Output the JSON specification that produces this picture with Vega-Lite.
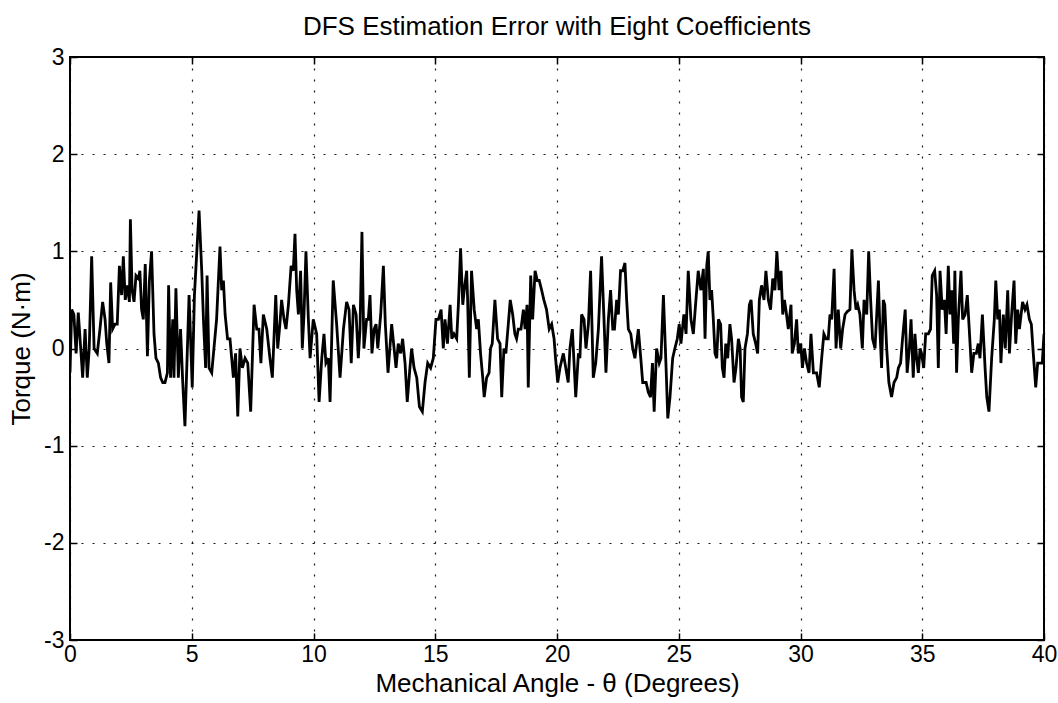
{
  "$schema": "https://vega.github.io/schema/vega-lite/v6.json",
  "autosize": {"type": "none"},
  "padding": {"left": 70, "top": 57, "right": 14, "bottom": 63},
  "width": 974,
  "height": 583,
  "background": "white",
  "title": {"text": "DFS Estimation Error with Eight Coefficients", "fontSize": 26, "font": "Liberation Sans", "fontWeight": "normal", "color": "black", "offset": 6},
  "config": {
    "view": {"stroke": "black", "strokeWidth": 2},
    "axis": {"labelFont": "Liberation Sans", "titleFont": "Liberation Sans", "labelFontSize": 23, "titleFontSize": 26, "titleFontWeight": "normal", "labelColor": "black", "titleColor": "black", "domain": false, "tickColor": "black", "tickSize": -7, "tickWidth": 1.5, "gridColor": "black", "gridDash": [2, 9], "gridWidth": 1.2, "gridOpacity": 0.9}
  },
  "data": {"values": [
    {"a":0,"t":-0.25},{"a":0.07,"t":0.4},{"a":0.16,"t":0.35},{"a":0.25,"t":-0.05},{"a":0.34,"t":0.37},{"a":0.44,"t":0.0},{"a":0.52,"t":-0.3},{"a":0.62,"t":0.2},{"a":0.71,"t":-0.3},{"a":0.79,"t":0.0},{"a":0.89,"t":0.95},{"a":0.99,"t":0.0},{"a":1.12,"t":-0.05},{"a":1.23,"t":0.2},{"a":1.34,"t":0.48},{"a":1.44,"t":0.3},{"a":1.51,"t":0.05},{"a":1.6,"t":-0.15},{"a":1.67,"t":0.68},{"a":1.75,"t":0.2},{"a":1.85,"t":0.25},{"a":1.94,"t":0.25},{"a":2.03,"t":0.85},{"a":2.12,"t":0.55},{"a":2.19,"t":0.95},{"a":2.27,"t":0.5},{"a":2.35,"t":0.65},{"a":2.44,"t":0.48},{"a":2.48,"t":1.33},{"a":2.55,"t":0.6},{"a":2.63,"t":0.48},{"a":2.71,"t":0.75},{"a":2.81,"t":0.72},{"a":2.87,"t":0.8},{"a":2.94,"t":0.4},{"a":3.01,"t":0.3},{"a":3.09,"t":0.87},{"a":3.18,"t":-0.08},{"a":3.26,"t":0.7},{"a":3.35,"t":1.0},{"a":3.45,"t":0.15},{"a":3.53,"t":-0.1},{"a":3.63,"t":-0.15},{"a":3.72,"t":-0.3},{"a":3.81,"t":-0.35},{"a":3.9,"t":-0.35},{"a":4.0,"t":-0.25},{"a":4.05,"t":0.65},{"a":4.13,"t":-0.3},{"a":4.22,"t":0.3},{"a":4.27,"t":-0.3},{"a":4.35,"t":0.62},{"a":4.45,"t":-0.3},{"a":4.54,"t":0.2},{"a":4.63,"t":-0.35},{"a":4.72,"t":-0.8},
    {"a":4.89,"t":0.55},{"a":5.02,"t":-0.4},{"a":5.11,"t":0.55},{"a":5.3,"t":1.42},{"a":5.41,"t":0.8},{"a":5.48,"t":0.3},{"a":5.57,"t":-0.2},{"a":5.63,"t":0.75},{"a":5.71,"t":-0.2},{"a":5.82,"t":-0.25},{"a":6.02,"t":0.3},{"a":6.16,"t":1.05},{"a":6.23,"t":0.6},{"a":6.3,"t":0.7},{"a":6.37,"t":0.35},{"a":6.47,"t":0.1},{"a":6.57,"t":0.1},{"a":6.71,"t":-0.3},{"a":6.8,"t":-0.05},{"a":6.89,"t":-0.7},{"a":6.98,"t":0.0},{"a":7.08,"t":-0.2},{"a":7.19,"t":-0.1},{"a":7.3,"t":-0.15},{"a":7.42,"t":-0.65},{"a":7.56,"t":0.45},{"a":7.67,"t":0.2},{"a":7.76,"t":0.2},{"a":7.84,"t":-0.15},{"a":7.94,"t":0.35},{"a":8.08,"t":0.2},{"a":8.21,"t":-0.1},{"a":8.31,"t":-0.3},{"a":8.45,"t":0.55},{"a":8.53,"t":0.0},{"a":8.62,"t":0.25},{"a":8.69,"t":0.5},{"a":8.79,"t":0.3},{"a":8.87,"t":0.2},{"a":8.97,"t":0.45},{"a":9.08,"t":0.85},{"a":9.17,"t":0.8},{"a":9.24,"t":1.18},{"a":9.31,"t":0.6},{"a":9.38,"t":0.35},{"a":9.47,"t":0.8},{"a":9.54,"t":0.0},{"a":9.61,"t":0.35},{"a":9.69,"t":1.0},{"a":9.79,"t":0.3},{"a":9.86,"t":-0.1},{"a":9.99,"t":0.3},
    {"a":10.13,"t":0.15},{"a":10.23,"t":-0.55},{"a":10.34,"t":-0.1},{"a":10.43,"t":0.15},{"a":10.51,"t":-0.15},{"a":10.61,"t":-0.1},{"a":10.68,"t":-0.55},{"a":10.81,"t":0.7},{"a":10.95,"t":0.25},{"a":11.09,"t":-0.3},{"a":11.23,"t":0.2},{"a":11.36,"t":0.48},{"a":11.46,"t":0.4},{"a":11.55,"t":-0.15},{"a":11.64,"t":0.45},{"a":11.75,"t":0.35},{"a":11.84,"t":-0.1},{"a":11.91,"t":0.2},{"a":11.99,"t":1.2},{"a":12.07,"t":0.0},{"a":12.18,"t":0.3},{"a":12.25,"t":0.3},{"a":12.32,"t":0.55},{"a":12.4,"t":-0.05},{"a":12.49,"t":0.2},{"a":12.57,"t":0.25},{"a":12.64,"t":0.0},{"a":12.76,"t":0.35},{"a":12.87,"t":0.85},{"a":12.95,"t":0.25},{"a":13.06,"t":-0.25},{"a":13.21,"t":0.25},{"a":13.31,"t":0.0},{"a":13.39,"t":-0.2},{"a":13.48,"t":0.05},{"a":13.58,"t":-0.05},{"a":13.66,"t":0.1},{"a":13.76,"t":-0.15},{"a":13.85,"t":-0.55},{"a":13.96,"t":-0.2},{"a":14.03,"t":0.0},{"a":14.13,"t":-0.2},{"a":14.24,"t":-0.3},{"a":14.35,"t":-0.6},{"a":14.47,"t":-0.65},{"a":14.58,"t":-0.35},{"a":14.69,"t":-0.15},{"a":14.81,"t":-0.2},{"a":14.92,"t":-0.1},{"a":15.03,"t":0.3},{"a":15.13,"t":0.3},
    {"a":15.24,"t":0.4},{"a":15.33,"t":0.0},{"a":15.4,"t":0.3},{"a":15.5,"t":0.05},{"a":15.61,"t":0.45},{"a":15.68,"t":0.1},{"a":15.77,"t":0.15},{"a":15.88,"t":0.1},{"a":15.95,"t":0.45},{"a":16.04,"t":1.03},{"a":16.13,"t":0.45},{"a":16.19,"t":0.6},{"a":16.29,"t":0.8},{"a":16.33,"t":0.5},{"a":16.4,"t":-0.3},{"a":16.49,"t":0.8},{"a":16.6,"t":0.4},{"a":16.7,"t":0.2},{"a":16.77,"t":0.3},{"a":16.86,"t":-0.05},{"a":16.95,"t":-0.3},{"a":17.01,"t":-0.5},{"a":17.11,"t":-0.3},{"a":17.21,"t":-0.25},{"a":17.27,"t":0.0},{"a":17.34,"t":0.05},{"a":17.45,"t":0.5},{"a":17.56,"t":0.1},{"a":17.66,"t":0.05},{"a":17.73,"t":-0.5},{"a":17.82,"t":0.0},{"a":17.9,"t":-0.05},{"a":18.0,"t":0.25},{"a":18.08,"t":0.5},{"a":18.18,"t":0.35},{"a":18.27,"t":0.15},{"a":18.34,"t":0.1},{"a":18.41,"t":0.2},{"a":18.52,"t":0.2},{"a":18.62,"t":0.4},{"a":18.69,"t":0.2},{"a":18.77,"t":0.45},{"a":18.82,"t":-0.4},{"a":18.92,"t":0.75},{"a":19.0,"t":0.3},{"a":19.1,"t":0.8},{"a":19.19,"t":0.7},{"a":19.27,"t":0.7},{"a":19.37,"t":0.6},{"a":19.46,"t":0.5},{"a":19.57,"t":0.4},{"a":19.68,"t":0.2},{"a":19.78,"t":0.25},{"a":19.88,"t":0.1},{"a":19.94,"t":-0.1},{"a":20.03,"t":-0.35},{"a":20.12,"t":-0.2},{"a":20.26,"t":-0.05},
    {"a":20.46,"t":-0.35},{"a":20.53,"t":0.0},{"a":20.63,"t":0.2},{"a":20.7,"t":-0.15},{"a":20.77,"t":-0.5},{"a":20.88,"t":-0.05},{"a":20.94,"t":-0.1},{"a":21.01,"t":0.35},{"a":21.11,"t":0.3},{"a":21.19,"t":0.0},{"a":21.29,"t":0.25},{"a":21.38,"t":0.8},{"a":21.49,"t":-0.3},{"a":21.59,"t":-0.15},{"a":21.7,"t":0.2},{"a":21.83,"t":0.95},{"a":21.93,"t":0.3},{"a":22.01,"t":-0.25},{"a":22.11,"t":0.3},{"a":22.2,"t":0.6},{"a":22.29,"t":0.2},{"a":22.36,"t":0.2},{"a":22.45,"t":0.5},{"a":22.52,"t":0.35},{"a":22.61,"t":0.8},{"a":22.7,"t":0.8},{"a":22.79,"t":0.88},{"a":22.86,"t":0.5},{"a":22.93,"t":0.2},{"a":23.03,"t":0.15},{"a":23.11,"t":0.0},{"a":23.2,"t":-0.1},{"a":23.34,"t":0.2},{"a":23.44,"t":-0.1},{"a":23.52,"t":-0.35},{"a":23.66,"t":-0.35},{"a":23.75,"t":-0.45},{"a":23.84,"t":-0.5},{"a":23.92,"t":-0.15},{"a":23.99,"t":-0.65},{"a":24.09,"t":0.0},{"a":24.2,"t":-0.15},{"a":24.27,"t":-0.1},{"a":24.37,"t":0.55},{"a":24.48,"t":-0.2},{"a":24.55,"t":-0.72},{"a":24.64,"t":-0.5},{"a":24.75,"t":-0.1},{"a":24.84,"t":0.0},{"a":24.94,"t":0.1},{"a":25.02,"t":0.25},{"a":25.09,"t":0.05},{"a":25.21,"t":0.35},{"a":25.3,"t":0.15},{"a":25.39,"t":0.8},
    {"a":25.5,"t":0.3},{"a":25.6,"t":0.15},{"a":25.69,"t":0.45},{"a":25.8,"t":0.8},{"a":25.91,"t":0.6},{"a":26.01,"t":0.82},{"a":26.08,"t":0.1},{"a":26.15,"t":0.85},{"a":26.21,"t":1.0},{"a":26.28,"t":0.5},{"a":26.35,"t":0.6},{"a":26.42,"t":0.3},{"a":26.49,"t":-0.05},{"a":26.56,"t":-0.1},{"a":26.63,"t":0.3},{"a":26.72,"t":0.25},{"a":26.79,"t":-0.2},{"a":26.86,"t":-0.3},{"a":26.93,"t":0.05},{"a":27.01,"t":-0.1},{"a":27.1,"t":0.25},{"a":27.17,"t":0.1},{"a":27.27,"t":-0.35},{"a":27.35,"t":-0.2},{"a":27.45,"t":0.1},{"a":27.52,"t":0.0},{"a":27.58,"t":-0.5},{"a":27.65,"t":-0.55},{"a":27.72,"t":0.0},{"a":27.82,"t":0.15},{"a":27.9,"t":0.45},{"a":27.97,"t":0.5},{"a":28.06,"t":0.15},{"a":28.16,"t":0.05},{"a":28.24,"t":-0.05},{"a":28.31,"t":0.5},{"a":28.4,"t":0.65},{"a":28.5,"t":0.5},{"a":28.58,"t":0.8},{"a":28.68,"t":0.5},{"a":28.77,"t":0.4},{"a":28.86,"t":0.72},{"a":28.95,"t":0.6},{"a":29.03,"t":1.0},{"a":29.12,"t":0.6},{"a":29.2,"t":0.8},{"a":29.27,"t":0.35},{"a":29.34,"t":0.5},{"a":29.4,"t":0.4},{"a":29.5,"t":0.2},{"a":29.61,"t":0.45},{"a":29.66,"t":-0.05},{"a":29.75,"t":0.05},{"a":29.84,"t":0.3},{"a":29.91,"t":-0.05},{"a":30.01,"t":0.05},{"a":30.08,"t":-0.2},{"a":30.16,"t":0.0},{"a":30.25,"t":-0.15},{"a":30.35,"t":-0.25},{"a":30.43,"t":0.15},{"a":30.53,"t":-0.25},
    {"a":30.66,"t":-0.25},{"a":30.77,"t":-0.4},{"a":30.87,"t":-0.1},{"a":30.96,"t":0.15},{"a":31.05,"t":0.1},{"a":31.14,"t":0.1},{"a":31.21,"t":0.35},{"a":31.28,"t":0.3},{"a":31.38,"t":0.82},{"a":31.46,"t":0.0},{"a":31.55,"t":0.4},{"a":31.65,"t":0.0},{"a":31.73,"t":0.2},{"a":31.83,"t":0.35},{"a":31.92,"t":0.38},{"a":32.03,"t":0.4},{"a":32.11,"t":1.02},{"a":32.2,"t":0.6},{"a":32.28,"t":0.4},{"a":32.35,"t":0.45},{"a":32.44,"t":0.35},{"a":32.54,"t":0.0},{"a":32.61,"t":0.5},{"a":32.72,"t":0.35},{"a":32.8,"t":1.0},{"a":32.88,"t":0.5},{"a":32.96,"t":0.1},{"a":33.06,"t":0.0},{"a":33.13,"t":0.35},{"a":33.2,"t":0.7},{"a":33.26,"t":0.2},{"a":33.33,"t":-0.2},{"a":33.4,"t":0.5},{"a":33.46,"t":0.45},{"a":33.54,"t":0.0},{"a":33.63,"t":-0.35},{"a":33.74,"t":-0.5},{"a":33.84,"t":-0.35},{"a":33.95,"t":-0.3},{"a":34.02,"t":-0.2},{"a":34.11,"t":-0.15},{"a":34.19,"t":0.1},{"a":34.3,"t":0.4},{"a":34.38,"t":-0.25},{"a":34.47,"t":0.0},{"a":34.54,"t":0.3},{"a":34.63,"t":-0.3},{"a":34.7,"t":0.15},{"a":34.77,"t":-0.1},{"a":34.84,"t":-0.25},{"a":34.91,"t":0.0},{"a":34.97,"t":-0.05},{"a":35.06,"t":-0.2},{"a":35.14,"t":0.15},{"a":35.25,"t":0.15},{"a":35.34,"t":0.2},{"a":35.41,"t":0.75},{"a":35.51,"t":0.8},{"a":35.59,"t":0.55},{"a":35.66,"t":-0.2},
    {"a":35.73,"t":0.8},{"a":35.82,"t":0.4},{"a":35.91,"t":0.5},{"a":35.98,"t":0.15},{"a":36.07,"t":0.85},{"a":36.14,"t":0.35},{"a":36.21,"t":0.6},{"a":36.29,"t":0.05},{"a":36.34,"t":0.8},{"a":36.41,"t":-0.25},{"a":36.48,"t":0.3},{"a":36.59,"t":0.8},{"a":36.66,"t":0.3},{"a":36.76,"t":0.35},{"a":36.85,"t":0.55},{"a":36.93,"t":0.2},{"a":37.03,"t":-0.25},{"a":37.12,"t":-0.05},{"a":37.22,"t":-0.05},{"a":37.3,"t":0.05},{"a":37.37,"t":-0.1},{"a":37.47,"t":0.35},{"a":37.58,"t":-0.2},{"a":37.65,"t":-0.5},{"a":37.74,"t":-0.65},{"a":37.85,"t":-0.1},{"a":37.96,"t":0.3},{"a":38.02,"t":0.7},{"a":38.1,"t":0.3},{"a":38.17,"t":0.4},{"a":38.23,"t":-0.15},{"a":38.33,"t":0.35},{"a":38.41,"t":0.0},{"a":38.51,"t":0.6},{"a":38.58,"t":-0.05},{"a":38.67,"t":0.35},{"a":38.77,"t":0.7},{"a":38.84,"t":0.05},{"a":38.92,"t":0.4},{"a":38.99,"t":0.2},{"a":39.06,"t":0.35},{"a":39.12,"t":0.48},{"a":39.22,"t":0.4},{"a":39.3,"t":0.45},{"a":39.4,"t":0.3},{"a":39.48,"t":0.25},{"a":39.56,"t":-0.05},{"a":39.66,"t":-0.4},{"a":39.74,"t":-0.15},{"a":39.84,"t":-0.15},{"a":39.93,"t":-0.15},{"a":40.0,"t":0.15}
  ]},
  "resolve": {"axis": {"x": "independent", "y": "independent"}},
  "layer": [
    {
      "mark": {"type": "line", "color": "black", "strokeWidth": 2.8, "strokeJoin": "miter", "clip": true},
      "encoding": {
        "x": {"field": "a", "type": "quantitative", "scale": {"domain": [0, 40], "nice": false, "zero": false}, "axis": {"values": [0,5,10,15,20,25,30,35,40], "grid": true, "title": "Mechanical Angle - θ (Degrees)", "labelPadding": 10, "titlePadding": 4, "labelFlush": false, "labelExpr": "'' + datum.value"}},
        "y": {"field": "t", "type": "quantitative", "scale": {"domain": [-3, 3], "nice": false}, "axis": {"values": [-3,-2,-1,0,1,2,3], "grid": true, "title": "Torque (N·m)", "labelPadding": 13, "titlePadding": 9, "labelFlush": false, "labelExpr": "'' + datum.value"}}
      }
    },
    {
      "mark": {"type": "line", "opacity": 0},
      "encoding": {
        "x": {"field": "a", "type": "quantitative", "scale": {"domain": [0, 40], "nice": false, "zero": false}, "axis": {"orient": "top", "values": [0,5,10,15,20,25,30,35,40], "grid": false, "labels": false, "title": null}},
        "y": {"field": "t", "type": "quantitative", "scale": {"domain": [-3, 3], "nice": false}, "axis": {"orient": "right", "values": [-3,-2,-1,0,1,2,3], "grid": false, "labels": false, "title": null}}
      }
    }
  ]
}
